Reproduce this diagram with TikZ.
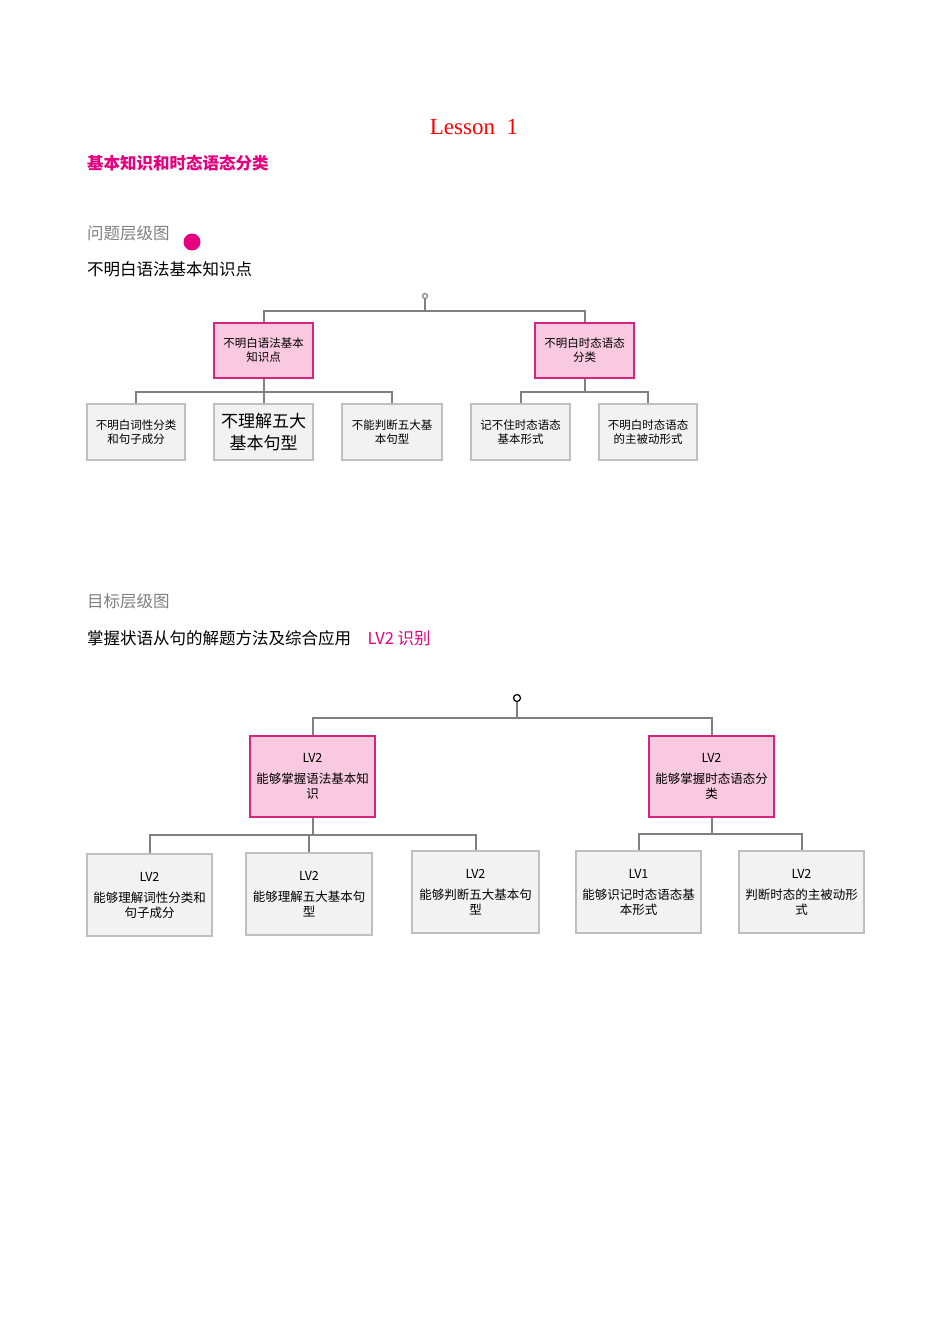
\documentclass[tikz,border=0pt]{standalone}
\usepackage{fontspec}
\setmainfont{Noto Sans CJK SC}
\newfontfamily\lsn{Liberation Serif}
\definecolor{pk}{HTML}{F9C9E0}
\definecolor{pkb}{HTML}{D6247F}
\definecolor{gf}{HTML}{F2F2F2}
\definecolor{gb}{HTML}{BFBFBF}
\definecolor{ln}{HTML}{808080}
\definecolor{mg}{HTML}{E4007F}
\begin{document}
\begin{tikzpicture}[x=1pt,y=-1pt,
 pbox/.style={draw=pkb,fill=pk,line width=1.5pt,inner sep=0pt,align=center,font=\fontsize{11.5}{14}\selectfont},
 gbox/.style={draw=gb,fill=gf,line width=1.5pt,inner sep=0pt,align=center,font=\fontsize{11.5}{14}\selectfont},
 conn/.style={draw=ln,line width=2pt},
 lbl/.style={anchor=west,inner sep=0pt,font=\fontsize{16.5}{18}\selectfont}]
\useasboundingbox (0,0) rectangle (950,1344);
\node[inner sep=0pt,text=red,font=\lsn\fontsize{23}{26}\selectfont] (title) at (474,127) {Lesson\ \ 1};
\node[lbl,text=mg,font=\bfseries\fontsize{16.5}{18}\selectfont] (sub) at (87,163) {基本知识和时态语态分类};
\node[lbl,text=gray] (h1) at (87,233) {问题层级图};
\node[circle,fill=mg,minimum size=17pt,inner sep=0pt] (dot) at (192,242) {};
\node[lbl] (t1) at (87,269) {不明白语法基本知识点};
% top tree
\node[circle,draw=ln,line width=1.2pt,minimum size=5pt,inner sep=0pt] (r1) at (425,296) {};
\node[pbox,minimum width=99pt,minimum height=55pt] (a1) at (263.5,350.5) {不明白语法基本\\知识点};
\node[pbox,minimum width=99pt,minimum height=55pt] (b1) at (584.5,350.5) {不明白时态语态\\分类};
\node[gbox,minimum width=98pt,minimum height=56pt] (c1) at (136,432) {不明白词性分类\\和句子成分};
\node[gbox,minimum width=99pt,minimum height=56pt,font=\fontsize{17}{22}\selectfont] (c2) at (263.5,432) {不理解五大\\基本句型};
\node[gbox,minimum width=100pt,minimum height=56pt] (c3) at (392,432) {不能判断五大基\\本句型};
\node[gbox,minimum width=99pt,minimum height=56pt] (c4) at (520.5,432) {记不住时态语态\\基本形式};
\node[gbox,minimum width=98pt,minimum height=56pt] (c5) at (648,432) {不明白时态语态\\的主被动形式};
\draw[conn] (r1.south) -- ++(0,12) coordinate (j1);
\draw[conn] (a1.north) |- (j1) -| (b1.north);
\draw[conn] (a1.south) -- ++(0,13) coordinate (j2);
\draw[conn] (c1.north) |- (j2) -| (c3.north);
\draw[conn] (j2) -- (c2.north);
\draw[conn] (b1.south) -- ++(0,13) coordinate (j3);
\draw[conn] (c4.north) |- (j3) -| (c5.north);
% second section
\node[lbl,text=gray] (h2) at (87,601) {目标层级图};
\node[lbl] (t2) at (87,638) {掌握状语从句的解题方法及综合应用\quad\textcolor{mg}{LV2\ 识别}};
\node[circle,draw=black,line width=1.2pt,minimum size=7pt,inner sep=0pt] (r2) at (517,698) {};
\node[pbox,minimum width=125pt,minimum height=81pt,font=\fontsize{12.5}{15}\selectfont] (a2) at (312.5,776.5) {LV2\\[6pt]能够掌握语法基本知\\识};
\node[pbox,minimum width=125pt,minimum height=81pt,font=\fontsize{12.5}{15}\selectfont] (b2) at (711.5,776.5) {LV2\\[6pt]能够掌握时态语态分\\类};
\node[gbox,minimum width=125pt,minimum height=82pt,font=\fontsize{12.5}{15}\selectfont] (d1) at (149.5,895) {LV2\\[6pt]能够理解词性分类和\\句子成分};
\node[gbox,minimum width=126pt,minimum height=82pt,font=\fontsize{12.5}{15}\selectfont] (d2) at (309,894) {LV2\\[6pt]能够理解五大基本句\\型};
\node[gbox,minimum width=127pt,minimum height=82pt,font=\fontsize{12.5}{15}\selectfont] (d3) at (475.5,892) {LV2\\[6pt]能够判断五大基本句\\型};
\node[gbox,minimum width=125pt,minimum height=82pt,font=\fontsize{12.5}{15}\selectfont] (d4) at (638.5,892) {LV1\\[6pt]能够识记时态语态基\\本形式};
\node[gbox,minimum width=125pt,minimum height=82pt,font=\fontsize{12.5}{15}\selectfont] (d5) at (801.5,892) {LV2\\[6pt]判断时态的主被动形\\式};
\draw[conn] (r2.south) -- (517,718) coordinate (k1);
\draw[conn] (a2.north) |- (k1) -| (b2.north);
\draw[conn] (a2.south) -- (312.5,835) coordinate (k2);
\draw[conn] (d1.north) |- (k2) -| (d3.north);
\draw[conn] (d2.north) -- (d2.north |- k2);
\draw[conn] (b2.south) -- (711.5,834) coordinate (k3);
\draw[conn] (d4.north) |- (k3) -| (d5.north);
\end{tikzpicture}
\end{document}
